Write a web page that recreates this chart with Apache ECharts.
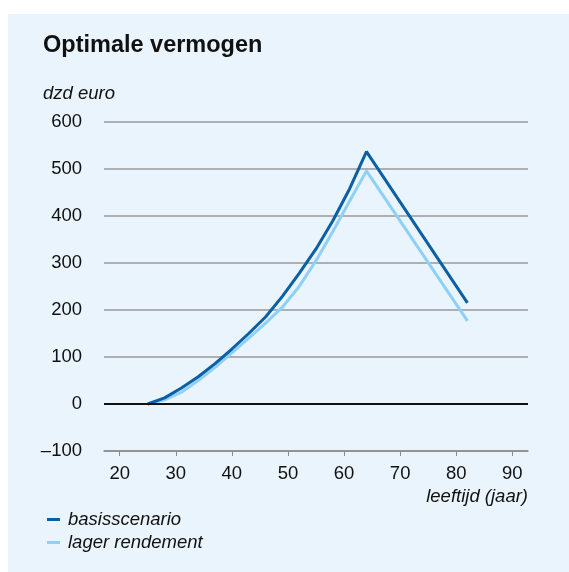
<!DOCTYPE html>
<html>
<head>
    <meta charset="utf-8">
    <title>Optimale vermogen</title>
    <script src="https://cdn.jsdelivr.net/npm/echarts@6/dist/echarts.min.js"></script>
    <style>
        html, body { margin: 0; padding: 0; background: #ffffff; }
        #chart { width: 569px; height: 572px; }
    </style>
</head>
<body>
    <div id="chart"></div>
    <script>
        // leeftijd (jaar) en vermogen (dzd euro)
        const ages = [25, 28, 31, 34, 37, 40, 43, 46, 49, 52, 55, 58, 61, 64, 82];
        const basisscenario = [0, 13, 34, 58, 86, 117, 150, 185, 229, 278, 330, 390, 458, 537, 215];
        const lagerRendement = [0, 9, 25, 50, 78, 109, 140, 172, 206, 250, 305, 367, 432, 496, 177];
        const xTicks = [20, 30, 40, 50, 60, 70, 80, 90];

        const font = '"Liberation Sans", Arial, Helvetica, sans-serif';
        const fs = 18.5;
        const chart = echarts.init(document.getElementById('chart'));

        const pairs = (ys) => ages.map((a, i) => [a, ys[i]]);

        chart.setOption({
            animation: false,
            graphic: [
                { type: 'rect', z: -10, shape: { x: 8, y: 14, width: 561, height: 558 }, style: { fill: '#eaf4fd' } },
                { type: 'text', left: 43, top: 84, style: { text: 'dzd euro', font: 'italic ' + fs + 'px ' + font, fill: '#111' } },
                { type: 'text', right: 41, top: 487, style: { text: 'leeftijd (jaar)', font: 'italic ' + fs + 'px ' + font, fill: '#111' } }
            ],
            title: {
                text: 'Optimale vermogen',
                left: 43, top: 34, padding: 0,
                textStyle: { fontFamily: font, fontSize: 23.5, fontWeight: 'bold', color: '#111' }
            },
            legend: {
                orient: 'vertical',
                left: 47, top: 510, padding: 0,
                icon: 'rect',
                itemWidth: 13, itemHeight: 3,
                itemGap: 4,
                textStyle: { fontFamily: font, fontSize: fs, fontStyle: 'italic', color: '#111', lineHeight: 19, padding: [0, 0, 0, 3] },
                data: ['basisscenario', 'lager rendement']
            },
            grid: { left: 104, right: 41, top: 122, bottom: 121 },
            xAxis: {
                type: 'value',
                min: 17.2, max: 92.8,
                axisLine: { onZero: false, lineStyle: { color: '#8a8a8a', width: 1.5 } },
                axisTick: { customValues: xTicks, inside: false, length: 5, lineStyle: { color: '#8a8a8a' } },
                axisLabel: { customValues: xTicks, margin: 13, fontFamily: font, fontSize: fs, color: '#111' },
                splitLine: { show: false }
            },
            yAxis: {
                type: 'value',
                min: -100, max: 600, interval: 100,
                axisLine: { show: false },
                axisTick: { show: false },
                axisLabel: {
                    margin: 22, fontFamily: font, fontSize: fs, color: '#111',
                    formatter: (v) => v < 0 ? '\u2013' + Math.abs(v) : String(v)
                },
                splitLine: { lineStyle: { color: '#999', width: 1.5 } }
            },
            series: [
                {
                    name: 'basisscenario',
                    type: 'line',
                    data: pairs(basisscenario),
                    showSymbol: false,
                    color: '#0b5fa5',
                    lineStyle: { width: 3 },
                    z: 3,
                    markLine: {
                        silent: true,
                        symbol: 'none',
                        label: { show: false },
                        lineStyle: { color: '#111', width: 2, type: 'solid' },
                        data: [{ yAxis: 0 }]
                    }
                },
                {
                    name: 'lager rendement',
                    type: 'line',
                    data: pairs(lagerRendement),
                    showSymbol: false,
                    color: '#8ed0f6',
                    lineStyle: { width: 3 },
                    z: 2
                }
            ]
        });
    </script>
</body>
</html>
